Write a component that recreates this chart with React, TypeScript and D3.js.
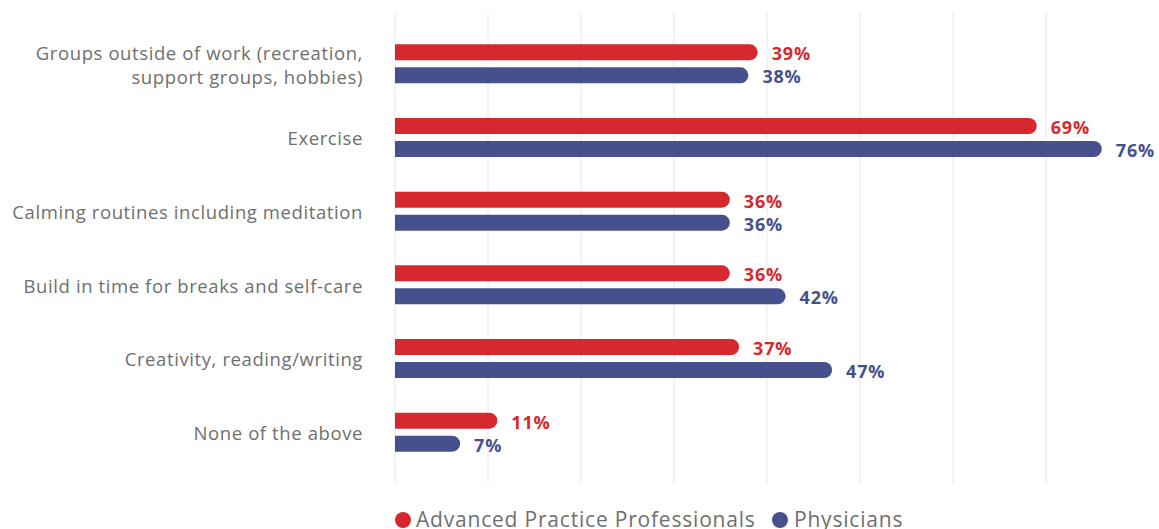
import React from "react";
import * as d3 from "d3";

const categories = [
  ["Groups outside of work (recreation,", "support groups, hobbies)"],
  ["Exercise"],
  ["Calming routines including meditation"],
  ["Build in time for breaks and self-care"],
  ["Creativity, reading/writing"],
  ["None of the above"],
];
const app = [39, 69, 36, 36, 37, 11];
const phys = [38, 76, 36, 42, 47, 7];
const seriesNames = ["Advanced Practice Professionals", "Physicians"];
const colors = ["#d7282f", "#46508c"];
const gridTicks = [0, 10, 20, 30, 40, 50, 60, 70];

export default function App() {
  const W = 1159, H = 529;
  const x = d3.scaleLinear().domain([0, 100]).range([395, 1325]);
  const y = d3.scaleBand<number>().domain(d3.range(categories.length)).range([27, 469]);
  const barH = 16, gap = 7;
  const font = "'Open Sans', sans-serif";
  const barPath = (v: number, top: number) => {
    const x0 = x(0), x1 = x(v), r = barH / 2;
    return `M${x0},${top}H${x1 - r}A${r},${r} 0 0 1 ${x1 - r},${top + barH}H${x0}Z`;
  };
  return (
    <svg width={W} height={H} style={{ position: "absolute", left: 0, top: 0 }}>
      {gridTicks.map((t) => (
        <line key={t} x1={x(t)} x2={x(t)} y1={13} y2={483} stroke="#e8e8ec" strokeWidth={1} />
      ))}
      {categories.map((lines, i) => {
        const c = (y(i) as number) + y.bandwidth() / 2;
        const lh = 24;
        return (
          <g key={i}>
            {lines.map((l, j) => (
              <text key={j} x={363} y={c + 1.5 + (j - (lines.length - 1) / 2) * lh} dy="0.35em" textAnchor="end"
                fontFamily={font} fontSize={18.5} letterSpacing={0.6} fill="#6f6f6f">{l}</text>
            ))}
            {[app[i], phys[i]].map((v, k) => {
              const top = k === 0 ? c - gap / 2 - barH : c + gap / 2;
              return (
                <g key={k}>
                  <path d={barPath(v, top)} fill={colors[k]} />
                  <text x={x(v) + 14} y={top + barH / 2 + 1.5} dy="0.36em" fontFamily={font} fontWeight={700}
                    fontSize={18} letterSpacing={0.8} fill={colors[k]}>{v}%</text>
                </g>
              );
            })}
          </g>
        );
      })}
      <g>
        <circle cx={403} cy={520} r={8} fill={colors[0]} />
        <text x={416} y={520} dy="0.35em" fontFamily={font} fontSize={21} letterSpacing={0.8} fill="#6f6f6f">{seriesNames[0]}</text>
        <circle cx={780} cy={520} r={8} fill={colors[1]} />
        <text x={794} y={520} dy="0.35em" fontFamily={font} fontSize={21} letterSpacing={0.8} fill="#6f6f6f">{seriesNames[1]}</text>
      </g>
    </svg>
  );
}
